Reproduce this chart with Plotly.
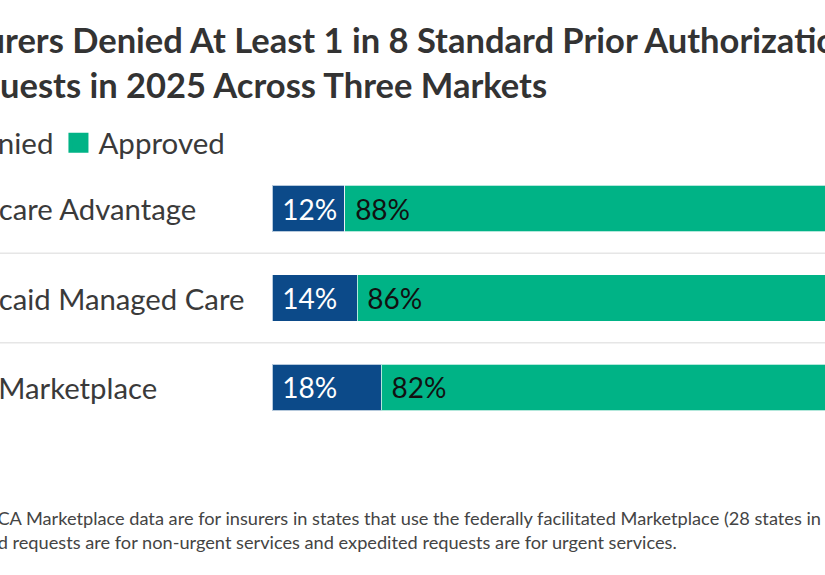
import plotly.graph_objects as go

markets = ['Medicare Advantage', 'Medicaid Managed Care', 'ACA Marketplace']
denied = [12, 14, 18]
approved = [88, 86, 82]

title_text = '<b>Insurers Denied At Least 1 in 8 Standard Prior Authorization<br>Requests in 2025 Across Three Markets</b>'
note_text = ('Note: ACA Marketplace data are for insurers in states that use the federally facilitated Marketplace (28 states in 2025).'
             '<br>Standard requests are for non-urgent services and expedited requests are for urgent services.')

blue = '#0c4a89'
green = '#00b386'
font = 'Lato'

# plot area in pixels
pl, pw = 272, 553
pb, ph = 432.5, 268.5

def px_x(p):
    return (p - pl) / pw

def px_y(p):
    return (pb - p) / ph

fig = go.Figure()

fig.add_trace(go.Bar(
    y=markets, x=denied, orientation='h', name='Denied', showlegend=False,
    marker=dict(color=blue, line=dict(color='rgba(255,255,255,0.7)', width=1)),
    texttemplate='\u00a0%{x}%', textposition='inside', insidetextanchor='start',
    textfont=dict(family=font, size=28, color='white')))
fig.add_trace(go.Bar(
    y=markets, x=approved, orientation='h', name='Approved', showlegend=False,
    marker=dict(color=green, line=dict(color='rgba(255,255,255,0.7)', width=1)),
    texttemplate='\u00a0%{x}%', textposition='inside', insidetextanchor='start',
    textfont=dict(family=font, size=28, color='#111111')))

# legend entries (square swatches)
fig.add_trace(go.Scatter(x=[None], y=[None], mode='markers', name='Denied',
                         marker=dict(symbol='square', size=18, color=blue,
                                     line=dict(color=blue, width=4))))
fig.add_trace(go.Scatter(x=[None], y=[None], mode='markers', name='Approved',
                         marker=dict(symbol='square', size=18, color=green,
                                     line=dict(color=green, width=4))))

# category labels, left aligned
for m in markets:
    fig.add_annotation(x=px_x(-69), xref='paper', y=m, yref='y', text=m, showarrow=False,
                       xanchor='left', yanchor='middle',
                       font=dict(family=font, size=29.3, color='#3a3a3a'))

# separators between rows
for i in range(len(markets) - 1):
    fig.add_shape(type='line', xref='paper', yref='y', x0=-1, x1=2, y0=i + 0.5, y1=i + 0.5,
                  line=dict(color='#e6e6e6', width=1.5))

# title
fig.add_annotation(x=px_x(-61), xref='paper', y=px_y(17), yref='paper',
                   text=title_text, showarrow=False, xanchor='left', yanchor='top', align='left',
                   font=dict(family=font, size=34.5, color='#333333'))

# note
fig.add_annotation(x=px_x(-65), xref='paper', y=px_y(506), yref='paper',
                   text=note_text, showarrow=False, xanchor='left', yanchor='top', align='left',
                   font=dict(family=font, size=18.2, color='#444444'))

fig.update_layout(
    width=825, height=575,
    margin=dict(l=pl, r=0, t=164, b=575 - pb, autoexpand=False),
    plot_bgcolor='white', paper_bgcolor='white',
    barmode='stack', bargap=0.48,
    legend=dict(orientation='h', x=px_x(-80), xref='paper', xanchor='left',
                y=px_y(143), yref='paper', yanchor='middle', traceorder='normal',
                font=dict(family=font, size=29.5, color='#3a3a3a'), itemsizing='trace',
                bgcolor='rgba(0,0,0,0)'),
    xaxis=dict(range=[0, pw / 6.08], visible=False),
    yaxis=dict(range=[2.5, -0.5], visible=False),
)

fig.write_html('out.html', config={'displayModeBar': False},
               post_script="document.body.style.margin='0';")
